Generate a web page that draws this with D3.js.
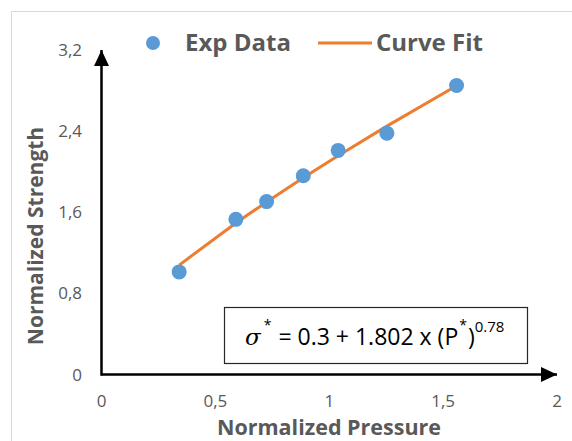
<!DOCTYPE html>
<html>
<head>
<meta charset="utf-8">
<script src="https://cdn.jsdelivr.net/npm/d3@7"></script>
<style>
  body { margin: 0; background: #fff; }
  text { font-family: "Open Sans", sans-serif; }
</style>
</head>
<body>
<svg width="572" height="441"></svg>
<script>
var pressure = [0.341, 0.590, 0.725, 0.886, 1.039, 1.253, 1.559];
var strength = [1.012, 1.530, 1.705, 1.960, 2.210, 2.380, 2.850];
// Curve fit values at the same pressures
var fitValues = [1.079, 1.494, 1.702, 1.940, 2.157, 2.449, 2.848];

var xTicks = [0, 0.5, 1, 1.5, 2];
var yTicks = [0, 0.8, 1.6, 2.4, 3.2];
var legendLabels = ['Exp Data', 'Curve Fit'];

var svg = d3.select('svg');
var blue = '#5B9BD5', orange = '#ED7D31', grey = '#595959';

// outer chart border (runs off the picture at right and bottom)
svg.append('rect')
  .attr('x', 11.5).attr('y', 11.5)
  .attr('width', 600).attr('height', 460)
  .attr('fill', 'none').attr('stroke', '#D9D9D9');

var xScale = d3.scaleLinear().domain([0, 2]).range([101.5, 557]);
var yScale = d3.scaleLinear().domain([0, 3.2]).range([374.5, 50]);

var fmt = function(d) { return String(d).replace('.', ','); };

// arrow heads
var defs = svg.append('defs');
defs.append('marker')
  .attr('id', 'arrow')
  .attr('viewBox', '0 0 16 16')
  .attr('refX', 16).attr('refY', 8)
  .attr('markerWidth', 16).attr('markerHeight', 16)
  .attr('markerUnits', 'userSpaceOnUse')
  .attr('orient', 'auto')
  .append('path')
  .attr('d', 'M0,0.5 L16,8 L0,15.5 Z')
  .attr('fill', '#000');

// axes lines
svg.append('line')
  .attr('x1', xScale(0)).attr('y1', yScale(0))
  .attr('x2', xScale(2)).attr('y2', yScale(0))
  .attr('stroke', '#000').attr('stroke-width', 2.5)
  .attr('marker-end', 'url(#arrow)');
svg.append('line')
  .attr('x1', xScale(0)).attr('y1', yScale(0) + 1.25)
  .attr('x2', xScale(0)).attr('y2', yScale(3.2))
  .attr('stroke', '#000').attr('stroke-width', 2.5)
  .attr('marker-end', 'url(#arrow)');

// tick labels
svg.append('g').selectAll('text')
  .data(xTicks).enter().append('text')
  .attr('x', d => xScale(d))
  .attr('y', 407)
  .attr('text-anchor', 'middle')
  .attr('font-size', 17)
  .attr('fill', grey)
  .text(fmt);

svg.append('g').selectAll('text')
  .data(yTicks).enter().append('text')
  .attr('x', 82)
  .attr('y', d => yScale(d) + 6)
  .attr('text-anchor', 'end')
  .attr('font-size', 17)
  .attr('fill', grey)
  .text(fmt);

// axis titles
svg.append('text')
  .attr('x', 329).attr('y', 435)
  .attr('text-anchor', 'middle')
  .attr('font-size', 21.5).attr('font-weight', 'bold')
  .attr('fill', grey)
  .text('Normalized Pressure');

svg.append('text')
  .attr('transform', 'translate(43,236) rotate(-90)')
  .attr('text-anchor', 'middle')
  .attr('font-size', 21).attr('font-weight', 'bold')
  .attr('fill', grey)
  .text('Normalized Strength');

// curve fit line
var line = d3.line()
  .x((d, i) => xScale(pressure[i]))
  .y(d => yScale(d));

svg.append('path')
  .datum(fitValues)
  .attr('d', line)
  .attr('fill', 'none')
  .attr('stroke', orange)
  .attr('stroke-width', 3)
  .attr('stroke-linejoin', 'round');

// experimental points
svg.append('g').selectAll('circle')
  .data(strength).enter().append('circle')
  .attr('cx', (d, i) => xScale(pressure[i]))
  .attr('cy', d => yScale(d))
  .attr('r', 7.5)
  .attr('fill', blue);

// legend
var legend = svg.append('g');
legend.append('circle')
  .attr('cx', 153).attr('cy', 43).attr('r', 7)
  .attr('fill', blue);
legend.append('text')
  .attr('x', 185).attr('y', 51)
  .attr('font-size', 24).attr('font-weight', 'bold')
  .attr('fill', grey)
  .text(legendLabels[0]);
legend.append('line')
  .attr('x1', 318).attr('x2', 372)
  .attr('y1', 43).attr('y2', 43)
  .attr('stroke', orange).attr('stroke-width', 3);
legend.append('text')
  .attr('x', 376).attr('y', 51)
  .attr('font-size', 24).attr('font-weight', 'bold')
  .attr('fill', grey)
  .text(legendLabels[1]);

// equation box
svg.append('rect')
  .attr('x', 224.5).attr('y', 307.5)
  .attr('width', 303).attr('height', 56)
  .attr('fill', '#fff')
  .attr('stroke', '#262626').attr('stroke-width', 1.2);

var eq = svg.append('text')
  .attr('x', 245).attr('y', 345)
  .attr('font-size', 23)
  .attr('fill', '#000');
eq.append('tspan').attr('font-style', 'italic')
  .attr('font-family', '"DejaVu Serif", serif').text('σ');
eq.append('tspan').attr('dy', -15).attr('dx', 3).attr('font-size', 14).text('*');
eq.append('tspan').attr('dy', 15).attr('dx', 1).text(' = 0.3 + 1.802 x (P');
eq.append('tspan').attr('dy', -15).attr('dx', 1).attr('font-size', 14).text('*');
eq.append('tspan').attr('dy', 15).attr('dx', 1).text(')');
eq.append('tspan').attr('dy', -13).attr('font-size', 15).text('0.78');
</script>
</body>
</html>
